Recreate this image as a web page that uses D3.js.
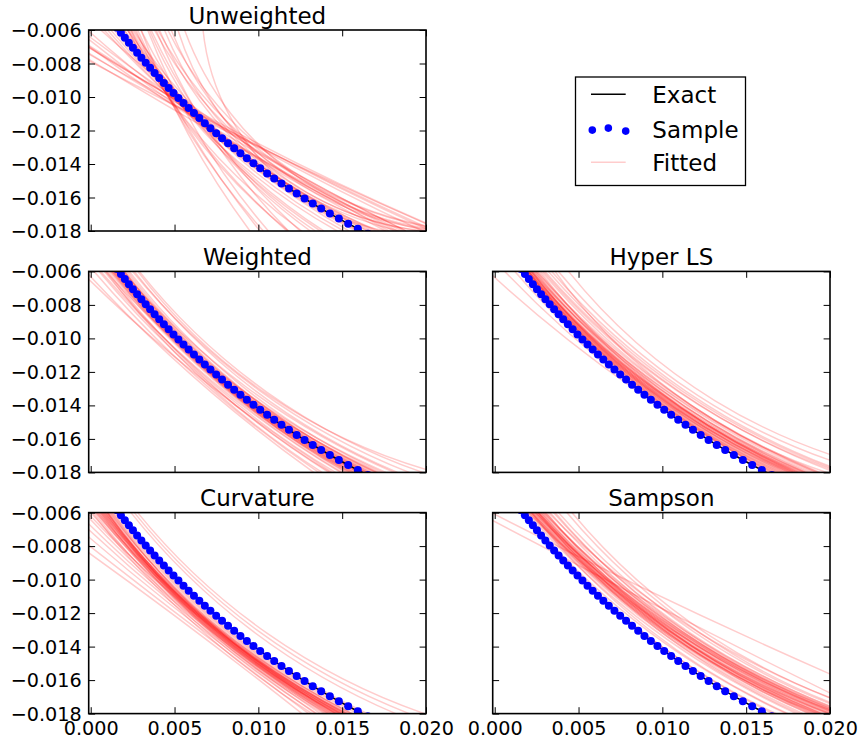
<!DOCTYPE html>
<html>
<head>
<meta charset="utf-8">
<script src="https://cdn.jsdelivr.net/npm/d3@7"></script>
<style>
  body { margin: 0; background: #fff; }
  svg { display: block; }
  text { font-family: "DejaVu Sans", sans-serif; fill: #000; }
</style>
</head>
<body>
<svg id="chart" width="858" height="739"></svg>
<script>
// ---- axis ranges and ticks ----
const xDomain = [-0.00012, 0.0200];
const yDomain = [-0.018, -0.006];
const xTicks = [0.000, 0.005, 0.010, 0.015, 0.020];
const yTicks = [-0.006, -0.008, -0.010, -0.012, -0.014, -0.016, -0.018];

// ---- sample points on the exact arc ----
const sampleX = [0.001571, 0.001802, 0.002037, 0.002277, 0.002520, 0.002769, 0.003023, 0.003281, 0.003544, 0.003812,
                 0.004086, 0.004364, 0.004649, 0.004939, 0.005234, 0.005536, 0.005844, 0.006158, 0.006479, 0.006807,
                 0.007142, 0.007484, 0.007834, 0.008191, 0.008557, 0.008931, 0.009314, 0.009707, 0.010109, 0.010522,
                 0.010945, 0.011380, 0.011826, 0.012285, 0.012758, 0.013245, 0.013747, 0.014266, 0.014802, 0.015358,
                 0.015934, 0.016533, 0.017156];
const sampleY = [-0.00586, -0.00616, -0.00646, -0.00676, -0.00706, -0.00736, -0.00766, -0.00796, -0.00826, -0.00856,
                 -0.00886, -0.00916, -0.00946, -0.00976, -0.01006, -0.01036, -0.01066, -0.01096, -0.01126, -0.01156,
                 -0.01186, -0.01216, -0.01246, -0.01276, -0.01306, -0.01336, -0.01366, -0.01396, -0.01426, -0.01456,
                 -0.01486, -0.01516, -0.01546, -0.01576, -0.01606, -0.01636, -0.01666, -0.01696, -0.01726, -0.01756,
                 -0.01786, -0.01816, -0.01846];

// ---- fitted curves: x position where each fit crosses these three heights ----
const fitLevels = [-0.006, -0.012, -0.018];

const fitsUnweighted = [
  [0.0030, 0.0057, 0.0095], [0.0034, 0.0063, 0.0106], [0.0039, 0.0070, 0.0118], [0.0027, 0.0058, 0.0103],
  [0.0036, 0.0071, 0.0125], [0.0024, 0.0060, 0.0118], [0.0030, 0.0068, 0.0131], [0.0022, 0.0062, 0.0126],
  [0.0026, 0.0069, 0.0139], [0.0023, 0.0067, 0.0137], [0.0022, 0.0061, 0.0117], [0.0020, 0.0068, 0.0147],
  [0.0035, 0.0070, 0.0134], [0.0028, 0.0059, 0.0101], [0.0024, 0.0071, 0.0151],
  [-0.0035, 0.0080, 0.0210], [-0.0026, 0.0082, 0.0205], [-0.0017, 0.0083, 0.0203], [-0.0015, 0.0082, 0.0198],
  [-0.0014, 0.0073, 0.0186], [-0.0006, 0.0080, 0.0188], [-0.0002, 0.0075, 0.0181], [-0.0023, 0.0076, 0.0188],
  [-0.0018, 0.0085, 0.0211], [0.0006, 0.0081, 0.0183], [-0.0030, 0.0071, 0.0178], [-0.0008, 0.0073, 0.0176],
  [0.0044, 0.0082, 0.0195], [0.0048, 0.0086, 0.0210], [0.0041, 0.0080, 0.0184], [0.0067, 0.0088, 0.0230],
  [0.0038, 0.0084, 0.0202], [0.0046, 0.0090, 0.0225], [0.0052, 0.0085, 0.0200], [0.0040, 0.0087, 0.0215],
  [0.0056, 0.0092, 0.0240],
  [0.0017, 0.0073, 0.0162], [0.0014, 0.0071, 0.0160], [0.0020, 0.0075, 0.0166], [0.0012, 0.0072, 0.0165],
  [0.0022, 0.0074, 0.0160], [0.0010, 0.0070, 0.0154], [0.0025, 0.0076, 0.0172], [0.0008, 0.0072, 0.0170],
  [0.0018, 0.0072, 0.0158], [0.0016, 0.0074, 0.0168]
];

const fitsWeighted = [
  [0.0017, 0.0073, 0.0162], [0.0015, 0.0072, 0.0160], [0.0016, 0.0071, 0.0157], [0.0019, 0.0074, 0.0164],
  [0.0014, 0.0070, 0.0155], [0.0018, 0.0072, 0.0159], [0.0013, 0.0071, 0.0160], [0.0016, 0.0074, 0.0166],
  [0.0012, 0.0069, 0.0153], [0.0015, 0.0070, 0.0152], [0.0020, 0.0075, 0.0165], [0.0011, 0.0068, 0.0150],
  [0.0008, 0.0065, 0.0146], [0.0005, 0.0063, 0.0142], [0.0002, 0.0060, 0.0136], [-0.0003, 0.0058, 0.0133],
  [0.0009, 0.0062, 0.0138], [0.0006, 0.0066, 0.0149], [0.0010, 0.0064, 0.0143], [-0.0006, 0.0061, 0.0144],
  [0.0023, 0.0080, 0.0174], [0.0026, 0.0084, 0.0183], [0.0029, 0.0089, 0.0198], [0.0022, 0.0078, 0.0170],
  [0.0025, 0.0086, 0.0190], [0.0020, 0.0077, 0.0171], [0.0028, 0.0087, 0.0206], [0.0019, 0.0081, 0.0181],
  [0.0013, 0.0076, 0.0176], [0.0009, 0.0073, 0.0172],
  [0.0017, 0.0072, 0.0161], [0.0016, 0.0073, 0.0163], [0.0018, 0.0074, 0.0162], [0.0014, 0.0071, 0.0158],
  [0.0019, 0.0073, 0.0160], [0.0015, 0.0071, 0.0156], [0.0017, 0.0075, 0.0167], [0.0013, 0.0069, 0.0154],
  [0.0020, 0.0076, 0.0168], [0.0012, 0.0070, 0.0157], [0.0016, 0.0072, 0.0164], [0.0018, 0.0071, 0.0155],
  [0.0021, 0.0077, 0.0170], [0.0014, 0.0073, 0.0165]
];

const fitsHyperLS = [
  [0.0018, 0.0076, 0.0170], [0.0020, 0.0078, 0.0173], [0.0022, 0.0080, 0.0176], [0.0019, 0.0079, 0.0178],
  [0.0021, 0.0082, 0.0182], [0.0024, 0.0083, 0.0180], [0.0017, 0.0075, 0.0168], [0.0023, 0.0085, 0.0187],
  [0.0026, 0.0086, 0.0185], [0.0020, 0.0081, 0.0184], [0.0025, 0.0089, 0.0194], [0.0028, 0.0090, 0.0192],
  [0.0022, 0.0087, 0.0193], [0.0019, 0.0077, 0.0175], [0.0027, 0.0084, 0.0179],
  [0.0030, 0.0094, 0.0203], [0.0034, 0.0098, 0.0210], [0.0038, 0.0101, 0.0223], [0.0044, 0.0106, 0.0240],
  [0.0032, 0.0096, 0.0208], [0.0029, 0.0093, 0.0206], [0.0036, 0.0091, 0.0198],
  [0.0016, 0.0073, 0.0163], [0.0015, 0.0074, 0.0166], [0.0006, 0.0072, 0.0165], [-0.0004, 0.0069, 0.0164],
  [0.0012, 0.0074, 0.0169], [0.0020, 0.0076, 0.0167],
  [0.0019, 0.0078, 0.0176], [0.0021, 0.0080, 0.0179], [0.0018, 0.0077, 0.0172], [0.0022, 0.0081, 0.0181],
  [0.0020, 0.0079, 0.0177], [0.0023, 0.0082, 0.0183], [0.0019, 0.0080, 0.0181], [0.0021, 0.0083, 0.0186],
  [0.0024, 0.0085, 0.0189], [0.0018, 0.0076, 0.0171], [0.0022, 0.0079, 0.0174], [0.0020, 0.0082, 0.0185],
  [0.0025, 0.0087, 0.0191], [0.0017, 0.0078, 0.0178]
];

const fitsCurvature = [
  [-0.0035, 0.0048, 0.0126], [-0.0026, 0.0051, 0.0130], [-0.0018, 0.0054, 0.0134], [-0.0012, 0.0056, 0.0137],
  [-0.0008, 0.0058, 0.0140], [-0.0004, 0.0059, 0.0142], [0.0000, 0.0060, 0.0144], [0.0003, 0.0061, 0.0146],
  [0.0005, 0.0062, 0.0148], [0.0007, 0.0063, 0.0150], [0.0009, 0.0063, 0.0147], [0.0010, 0.0064, 0.0151],
  [0.0012, 0.0065, 0.0153], [0.0004, 0.0064, 0.0152], [0.0008, 0.0066, 0.0155], [0.0011, 0.0067, 0.0156],
  [0.0013, 0.0068, 0.0159], [0.0006, 0.0059, 0.0139], [0.0002, 0.0057, 0.0135], [0.0014, 0.0069, 0.0161],
  [-0.0002, 0.0062, 0.0149], [0.0009, 0.0060, 0.0141], [0.0015, 0.0070, 0.0163], [0.0001, 0.0055, 0.0132],
  [0.0007, 0.0064, 0.0146], [0.0010, 0.0062, 0.0144],
  [0.0024, 0.0083, 0.0182], [0.0026, 0.0086, 0.0190], [0.0028, 0.0089, 0.0199], [0.0017, 0.0073, 0.0165],
  [0.0006, 0.0062, 0.0147], [0.0008, 0.0063, 0.0149], [0.0010, 0.0064, 0.0150], [0.0005, 0.0061, 0.0145],
  [0.0009, 0.0065, 0.0152], [0.0011, 0.0063, 0.0148], [0.0007, 0.0062, 0.0146], [0.0004, 0.0060, 0.0143],
  [0.0012, 0.0066, 0.0154], [0.0003, 0.0063, 0.0151], [0.0010, 0.0061, 0.0142], [0.0008, 0.0064, 0.0153],
  [0.0013, 0.0065, 0.0149], [0.0006, 0.0065, 0.0156]
];

const fitsSampson = [
  [0.0020, 0.0084, 0.0184], [0.0022, 0.0087, 0.0190], [0.0025, 0.0090, 0.0195], [0.0028, 0.0093, 0.0200],
  [0.0030, 0.0095, 0.0203], [0.0023, 0.0089, 0.0196], [0.0026, 0.0092, 0.0201], [0.0033, 0.0097, 0.0206],
  [0.0021, 0.0086, 0.0189], [0.0027, 0.0088, 0.0187], [0.0035, 0.0100, 0.0212], [0.0024, 0.0094, 0.0208],
  [0.0019, 0.0082, 0.0180], [0.0031, 0.0091, 0.0193], [0.0029, 0.0096, 0.0210], [0.0038, 0.0103, 0.0216],
  [0.0043, 0.0106, 0.0218], [0.0046, 0.0109, 0.0228], [0.0036, 0.0099, 0.0209], [0.0017, 0.0078, 0.0174],
  [0.0018, 0.0075, 0.0166], [0.0022, 0.0080, 0.0175], [-0.0002, 0.0120, 0.0255], [-0.0010, 0.0105, 0.0225],
  [0.0020, 0.0091, 0.0204], [0.0032, 0.0104, 0.0226], [0.0026, 0.0085, 0.0182], [0.0016, 0.0074, 0.0168],
  [0.0022, 0.0088, 0.0195], [0.0024, 0.0090, 0.0198], [0.0026, 0.0091, 0.0199], [0.0023, 0.0087, 0.0192],
  [0.0025, 0.0092, 0.0203], [0.0027, 0.0094, 0.0205], [0.0021, 0.0085, 0.0188], [0.0028, 0.0090, 0.0194],
  [0.0024, 0.0089, 0.0200], [0.0030, 0.0096, 0.0207], [0.0026, 0.0093, 0.0206], [0.0022, 0.0086, 0.0193],
  [0.0029, 0.0098, 0.0211], [0.0025, 0.0088, 0.0191]
];

const panels = [
  { title: "Unweighted", fits: fitsUnweighted, col: 0, row: 0 },
  { title: "Weighted",   fits: fitsWeighted,   col: 0, row: 1 },
  { title: "Hyper LS",   fits: fitsHyperLS,    col: 1, row: 1 },
  { title: "Curvature",  fits: fitsCurvature,  col: 0, row: 2 },
  { title: "Sampson",    fits: fitsSampson,    col: 1, row: 2 }
];

const legendLabels = ["Exact", "Sample", "Fitted"];

// ---- layout ----
const colX = [88.7, 492.7];
const rowY = [30, 271.4, 512.6];
const axW = 337.3, axH = 201;
const tickLen = 6.4;
const tickFont = 19.2, titleFont = 23, legendFont = 23;
const fitColor = "#ff0000", fitOpacity = 0.2;
const dotR = 4.0;

const svg = d3.select("#chart");

const x = d3.scaleLinear().domain(xDomain).range([0, axW]);
const y = d3.scaleLinear().domain(yDomain).range([axH, 0]);
const fmt = d3.format(".3f");

svg.append("defs").append("clipPath").attr("id", "plotClip")
  .append("rect").attr("x", 0).attr("y", 0).attr("width", axW).attr("height", axH);

// arc through the three crossing points of one fitted curve
function fitPath(f) {
  const p = f.map((v, i) => [x(v), y(fitLevels[i])]);
  const [a, b, c] = p;
  const d = 2 * (a[0] * (b[1] - c[1]) + b[0] * (c[1] - a[1]) + c[0] * (a[1] - b[1]));
  const path = d3.path();
  path.moveTo(a[0], a[1]);
  if (Math.abs(d) < 1e-6) {
    path.lineTo(c[0], c[1]);
    return path.toString();
  }
  const a2 = a[0] * a[0] + a[1] * a[1], b2 = b[0] * b[0] + b[1] * b[1], c2 = c[0] * c[0] + c[1] * c[1];
  const ux = (a2 * (b[1] - c[1]) + b2 * (c[1] - a[1]) + c2 * (a[1] - b[1])) / d;
  const uy = (a2 * (c[0] - b[0]) + b2 * (a[0] - c[0]) + c2 * (b[0] - a[0])) / d;
  const r = Math.hypot(a[0] - ux, a[1] - uy);
  const cross = (b[0] - a[0]) * (c[1] - b[1]) - (b[1] - a[1]) * (c[0] - b[0]);
  const t0 = Math.atan2(a[1] - uy, a[0] - ux);
  const t1 = Math.atan2(c[1] - uy, c[0] - ux);
  path.arc(ux, uy, r, t0, t1, cross < 0);
  return path.toString();
}

const exactLine = d3.line().x(d => x(d[0])).y(d => y(d[1]));
const samplePts = sampleX.map((v, i) => [v, sampleY[i]]);

panels.forEach(pn => {
  const g = svg.append("g").attr("transform", `translate(${colX[pn.col]},${rowY[pn.row]})`);
  const plot = g.append("g").attr("clip-path", "url(#plotClip)");

  plot.selectAll("path.fit").data(pn.fits).join("path")
    .attr("class", "fit")
    .attr("d", fitPath)
    .attr("fill", "none")
    .attr("stroke", fitColor)
    .attr("stroke-opacity", fitOpacity)
    .attr("stroke-width", 1.5);

  plot.append("path")
    .attr("d", exactLine(samplePts))
    .attr("fill", "none")
    .attr("stroke", "#000")
    .attr("stroke-width", 1.5);

  plot.selectAll("circle.sample").data(samplePts).join("circle")
    .attr("class", "sample")
    .attr("cx", d => x(d[0]))
    .attr("cy", d => y(d[1]))
    .attr("r", dotR)
    .attr("fill", "#0000ff");

  // ticks on all four sides, pointing inwards
  const showX = pn.row === 2, showY = pn.col === 0;
  const axB = g.append("g").attr("transform", `translate(0,${axH})`)
    .call(d3.axisBottom(x).tickValues(xTicks).tickSizeInner(-tickLen).tickSizeOuter(0)
      .tickPadding(7.4).tickFormat(showX ? fmt : ""));
  const axT = g.append("g")
    .call(d3.axisTop(x).tickValues(xTicks).tickSizeInner(-tickLen).tickSizeOuter(0).tickFormat(""));
  const axL = g.append("g")
    .call(d3.axisLeft(y).tickValues(yTicks).tickSizeInner(-tickLen).tickSizeOuter(0)
      .tickPadding(7).tickFormat(showY ? fmt : ""));
  const axR = g.append("g").attr("transform", `translate(${axW},0)`)
    .call(d3.axisRight(y).tickValues(yTicks).tickSizeInner(-tickLen).tickSizeOuter(0).tickFormat(""));

  [axB, axT, axL, axR].forEach(ax => {
    ax.select(".domain").remove();
    ax.attr("font-family", null).attr("font-size", null);
    ax.selectAll(".tick line").attr("stroke", "#000").attr("stroke-width", 1);
    ax.selectAll(".tick text").attr("fill", "#000").style("font-size", tickFont + "px");
  });
  axL.selectAll(".tick text").attr("dy", "0.34em");

  g.append("rect")
    .attr("x", 0).attr("y", 0).attr("width", axW).attr("height", axH)
    .attr("fill", "none").attr("stroke", "#000").attr("stroke-width", 1.6);

  g.append("text")
    .attr("x", axW / 2).attr("y", -6.5)
    .attr("text-anchor", "middle")
    .style("font-size", titleFont + "px")
    .text(pn.title);
});

// ---- legend ----
const lg = svg.append("g").attr("transform", "translate(575.5,77)");
lg.append("rect").attr("width", 170).attr("height", 108.5)
  .attr("fill", "#fff").attr("stroke", "#000").attr("stroke-width", 1.3);

const rowsY = [17.3, 52.6, 85.3];
const hx0 = 15.5, hx1 = 50.2;

lg.append("line").attr("x1", hx0).attr("x2", hx1).attr("y1", rowsY[0]).attr("y2", rowsY[0])
  .attr("stroke", "#000").attr("stroke-width", 1.5);

const legendDotOffsets = [0.5, -1.5, 1.5];
[hx0 + 1.3, (hx0 + hx1) / 2, hx1].forEach((cx, i) => {
  lg.append("circle").attr("cx", cx).attr("cy", rowsY[1] + legendDotOffsets[i]).attr("r", 3.8).attr("fill", "#0000ff");
});

lg.append("line").attr("x1", hx0).attr("x2", hx1).attr("y1", rowsY[2]).attr("y2", rowsY[2])
  .attr("stroke", fitColor).attr("stroke-opacity", fitOpacity).attr("stroke-width", 1.5);

legendLabels.forEach((t, i) => {
  lg.append("text")
    .attr("x", 76.8).attr("y", rowsY[i] + 8.6)
    .style("font-size", legendFont + "px")
    .text(t);
});
</script>
</body>
</html>
